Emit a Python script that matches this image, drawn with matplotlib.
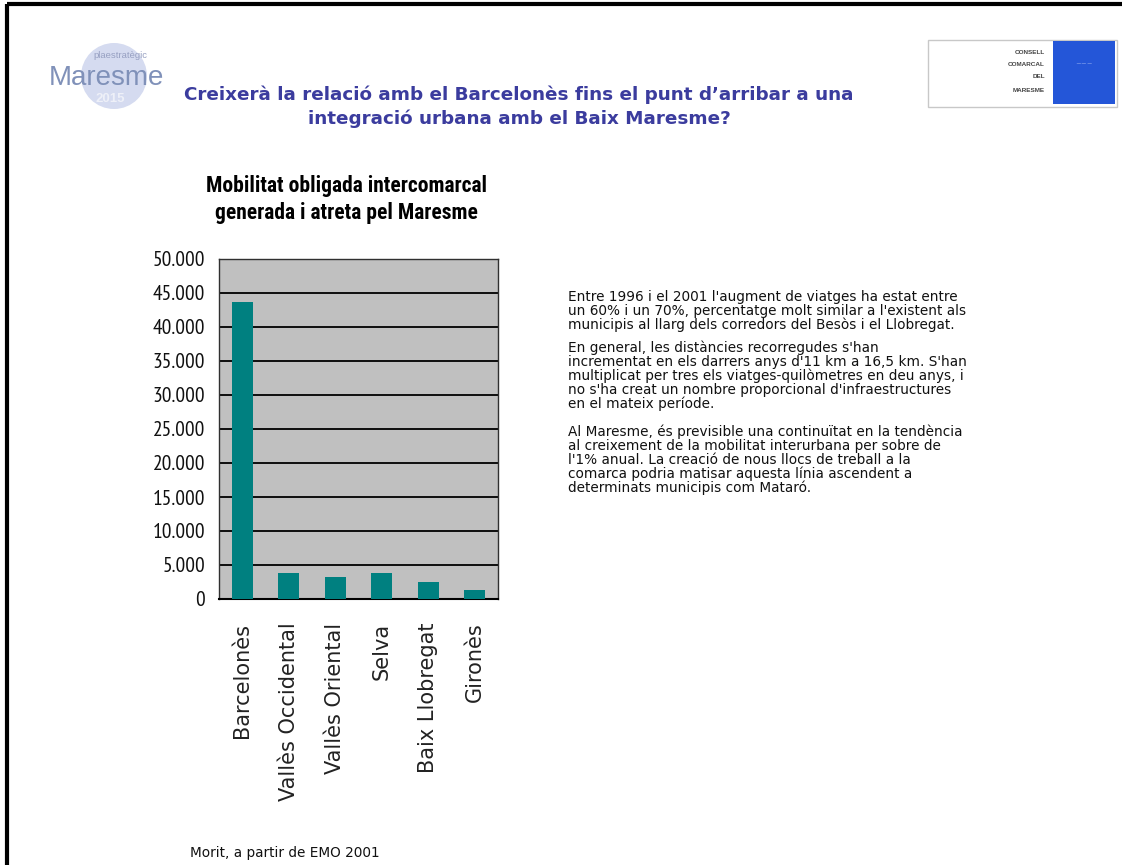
import matplotlib
matplotlib.use("Agg")
import matplotlib.pyplot as plt
from matplotlib.patches import Rectangle, Circle
from matplotlib.ticker import FuncFormatter, MultipleLocator

W, H = 1131, 865

comarques = ["Barcelonès", "Vallès Occidental", "Vallès Oriental", "Selva",
             "Baix Llobregat", "Gironès"]
viatges = [43700, 3800, 3200, 3800, 2500, 1300]

titol = ["Creixerà la relació amb el Barcelonès fins el punt d’arribar a una",
         "integració urbana amb el Baix Maresme?"]
titol_grafic = ["Mobilitat obligada intercomarcal",
                "generada i atreta pel Maresme"]
paragrafs = [
    ["Entre 1996 i el 2001 l'augment de viatges ha estat entre",
     "un 60% i un 70%, percentatge molt similar a l'existent als",
     "municipis al llarg dels corredors del Besòs i el Llobregat."],
    ["En general, les distàncies recorregudes s'han",
     "incrementat en els darrers anys d'11 km a 16,5 km. S'han",
     "multiplicat per tres els viatges-quilòmetres en deu anys, i",
     "no s'ha creat un nombre proporcional d'infraestructures",
     "en el mateix període."],
    ["Al Maresme, és previsible una continuïtat en la tendència",
     "al creixement de la mobilitat interurbana per sobre de",
     "l'1% anual. La creació de nous llocs de treball a la",
     "comarca podria matisar aquesta línia ascendent a",
     "determinats municipis com Mataró."],
]
y_paragrafs = [297, 348, 432]
pas_linia = 13.9
font_text = "Morit, a partir de EMO 2001"

NARROW = ["Roboto Condensed", "DejaVu Sans"]
NARROW_TICKS = ["PT Sans Narrow", "DejaVu Sans"]
ARIAL = ["Liberation Sans", "DejaVu Sans"]
DEJAVU = ["DejaVu Sans"]

fig = plt.figure(figsize=(W / 100, H / 100), dpi=100)
fig.patch.set_facecolor("white")

# page overlay in pixel coordinates (y grows downwards)
bg = fig.add_axes([0, 0, 1, 1])
bg.set_xlim(0, W)
bg.set_ylim(H, 0)
bg.axis("off")

# slide frame: left and top edges
bg.plot([7, 7], [H + 5, 4], color="black", lw=3, solid_capstyle="butt")
bg.plot([7, 1122], [4, 4], color="black", lw=3, solid_capstyle="butt")

# left logo
bg.add_patch(Circle((114, 76), 33, facecolor="#d5dbf0", edgecolor="none"))
bg.text(110, 99, "2015", ha="center", va="center", fontsize=9.5,
        color="#eef0f8", family=ARIAL, fontweight="bold")
bg.text(106, 78, "Maresme", ha="center", va="center", fontsize=20,
        color="#8091b9", family=ARIAL)
bg.text(120, 56, "plaestratègic", ha="center", va="center", fontsize=6.8,
        color="#97a0c2", family=ARIAL)

# right logo
bg.add_patch(Rectangle((928, 40), 189, 67, facecolor="white",
                       edgecolor="#c8c8c8", lw=1))
bg.add_patch(Rectangle((1053, 41), 62, 63, facecolor="#2456d8", edgecolor="none"))
for yy, s in zip([52, 64, 77, 91], ["CONSELL", "COMARCAL", "DEL", "MARESME"]):
    bg.text(1045, yy, s, ha="right", va="center", fontsize=4.6,
            fontweight="bold", color="#444444", family=ARIAL)
bg.text(1084, 64, "~~~", ha="center", va="center", fontsize=5, color="#8ea9ef")

# heading
for yy, s in zip([95, 119], titol):
    bg.text(519, yy, s, ha="center", va="center", fontsize=13.2,
            fontweight="bold", color="#3b3c9e", family=DEJAVU)

# chart heading
for yy, s in zip([186, 213], titol_grafic):
    bg.text(346, yy, s, ha="center", va="center", fontsize=15.5,
            fontweight="bold", color="black", family=NARROW)

# commentary, one line at a time
for y, lines in zip(y_paragrafs, paragrafs):
    for k, s in enumerate(lines):
        bg.text(568, y + k * pas_linia, s, ha="left", va="center",
                fontsize=9.8, color="#111111", family=DEJAVU)

bg.text(190, 853, font_text, ha="left", va="center", fontsize=9.8,
        color="#111111", family=DEJAVU)

# bar chart
x0, y0, x1, y1 = 219, 259, 498, 599
ax = fig.add_axes([x0 / W, 1 - y1 / H, (x1 - x0) / W, (y1 - y0) / H])
ax.set_facecolor("#c0c0c0")
ax.bar(range(len(comarques)), viatges, width=0.45, color="#008080", zorder=3)
ax.set_xlim(-0.5, len(comarques) - 0.5)
ax.set_ylim(0, 50000)
ax.yaxis.set_major_locator(MultipleLocator(5000))
ax.yaxis.set_major_formatter(FuncFormatter(
    lambda v, _: "0" if v == 0 else f"{int(v):,}".replace(",", ".")))
ax.grid(axis="y", color="black", lw=1.3, zorder=1)
ax.set_axisbelow(True)
for s in ax.spines.values():
    s.set_color("#303030")
    s.set_linewidth(1)
ax.spines["bottom"].set_color("black")
ax.spines["bottom"].set_linewidth(1.5)
ax.set_xticks(range(len(comarques)))
ax.set_xticklabels(comarques, rotation=90, fontsize=15, family=DEJAVU,
                   va="top", ha="center", color="#222222")
ax.tick_params(axis="x", length=0, pad=17)
ax.tick_params(axis="y", length=0, pad=10)
for lab in ax.get_yticklabels():
    lab.set_family(NARROW_TICKS)
    lab.set_fontsize(15.5)
    lab.set_color("#111111")

fig.savefig("out.png", dpi=100)
